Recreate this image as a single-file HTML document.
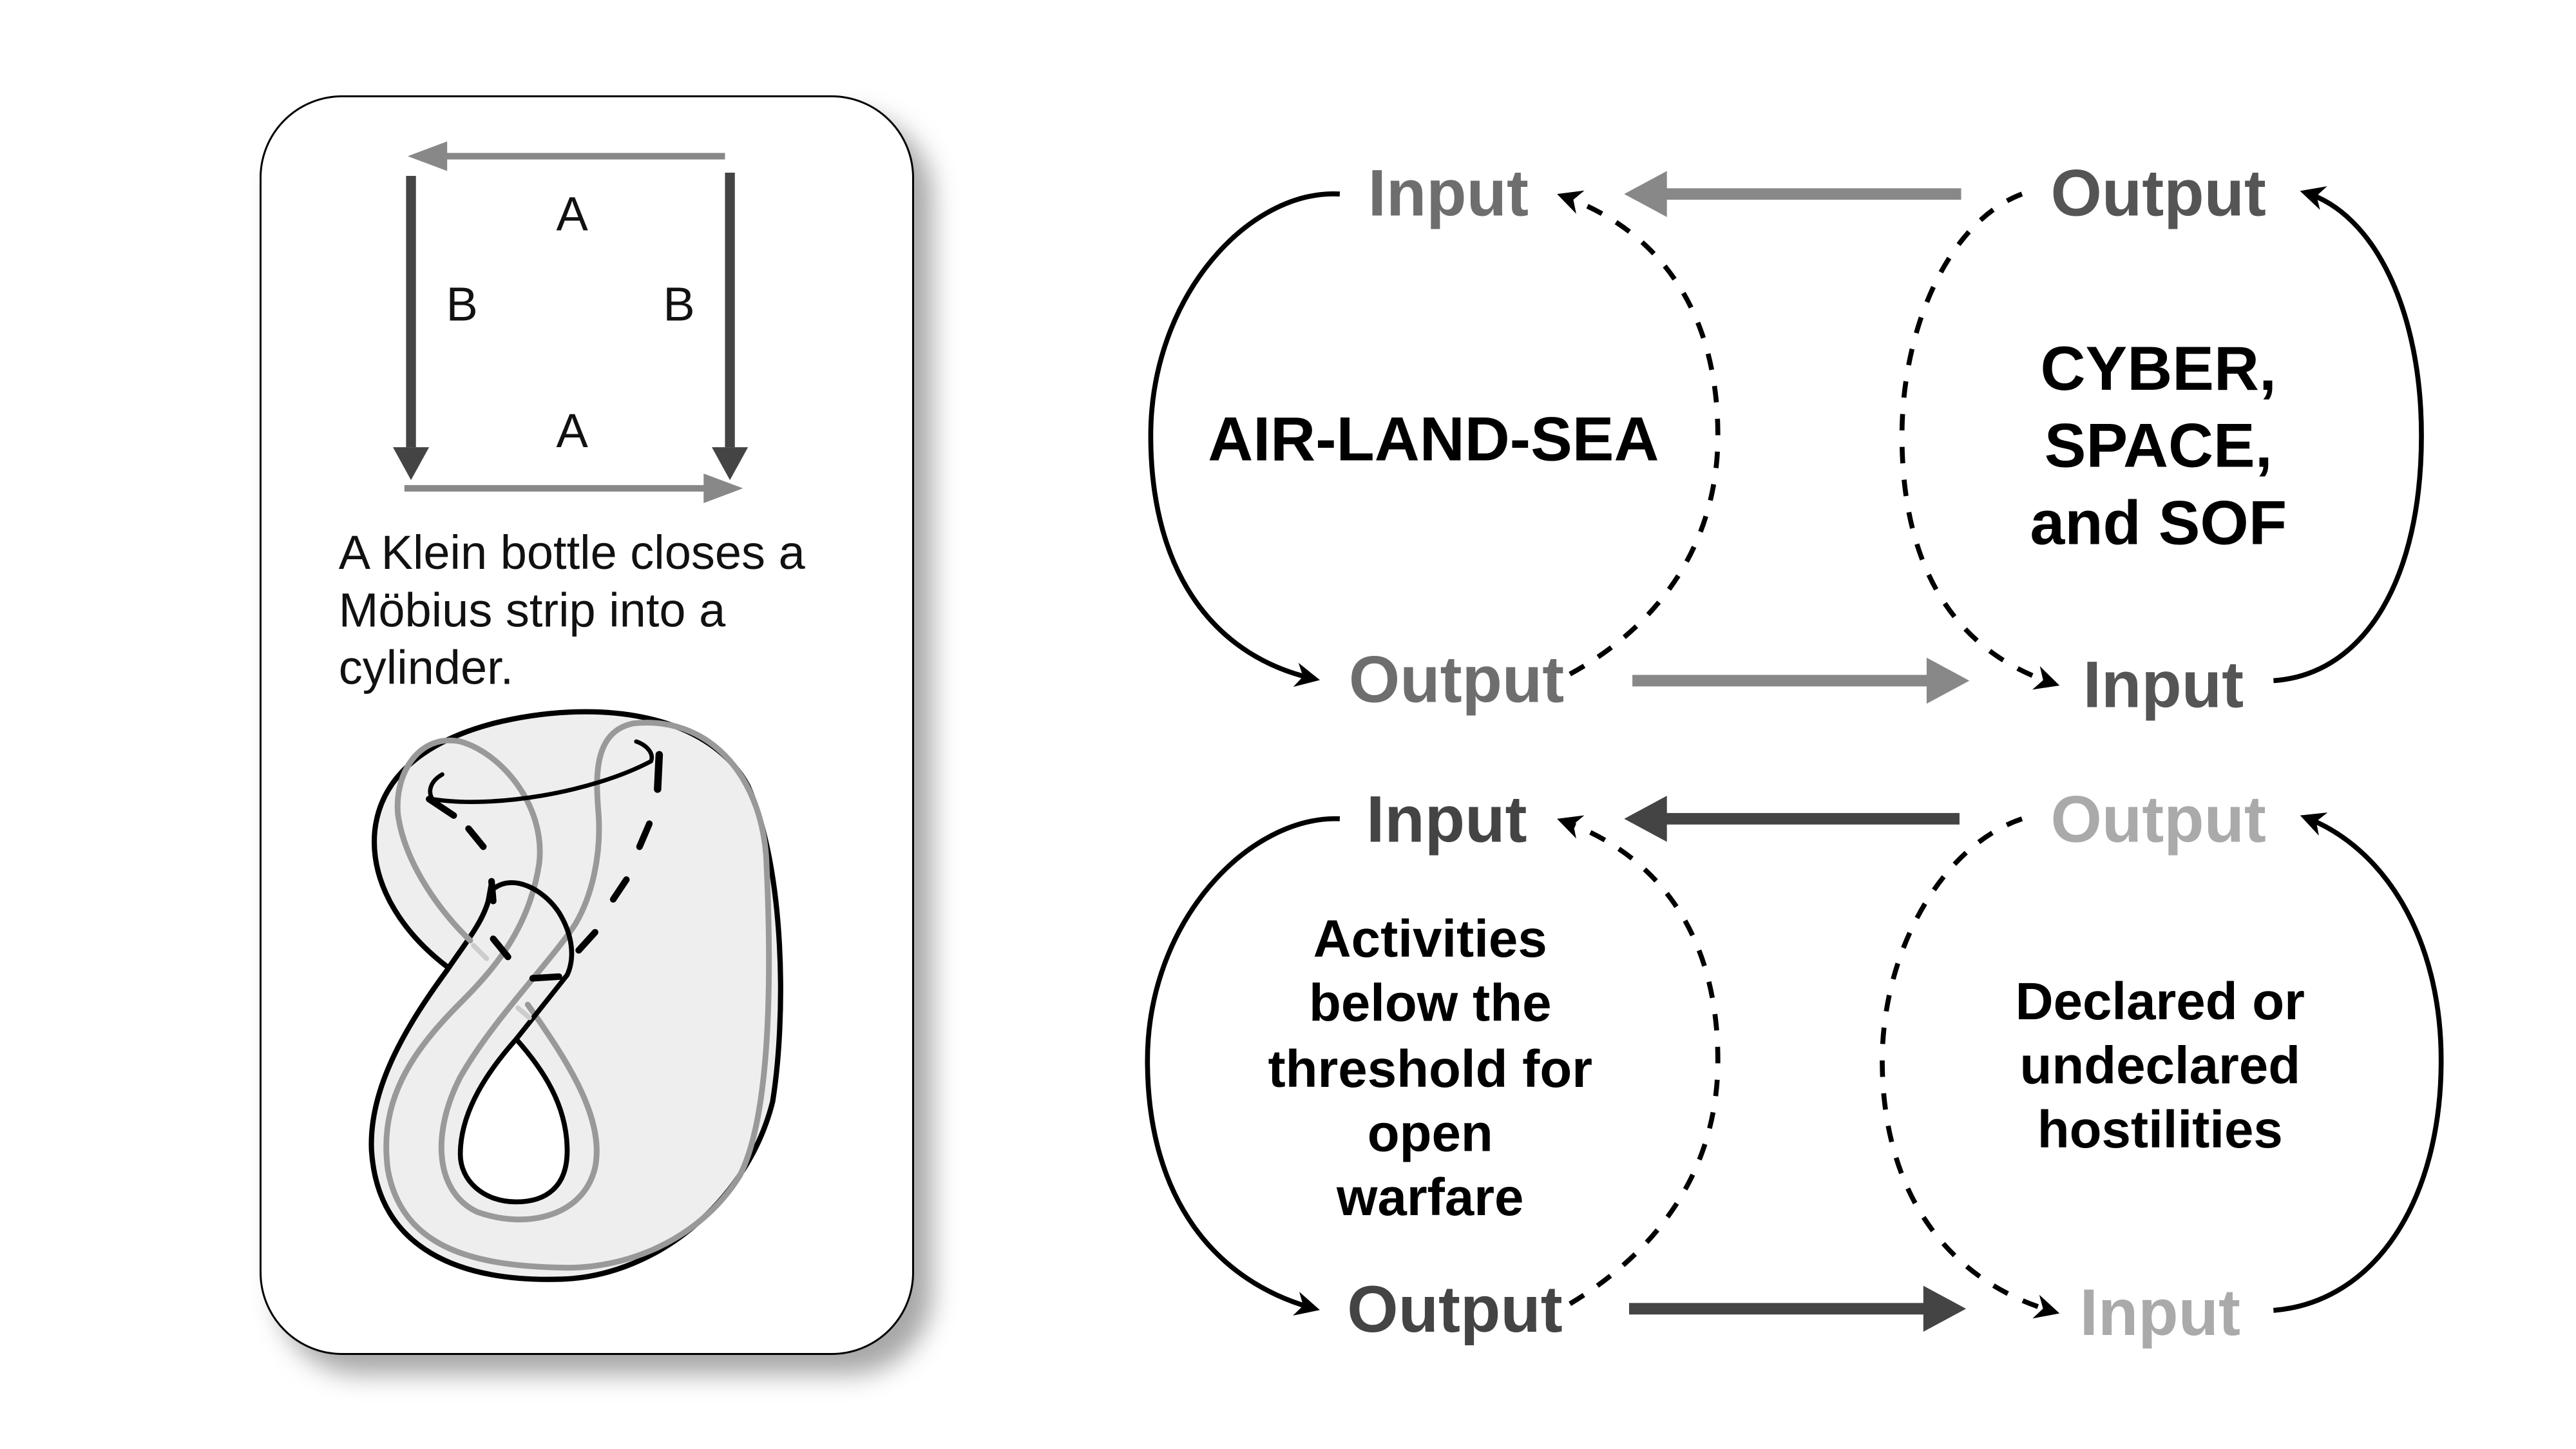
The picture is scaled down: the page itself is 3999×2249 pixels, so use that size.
<!DOCTYPE html>
<html><head><meta charset="utf-8"><style>
html,body{margin:0;padding:0;background:#fff;width:3999px;height:2249px;overflow:hidden}
.card{position:absolute;left:403px;top:148px;width:1010px;height:1949px;border:3px solid #000;border-radius:128px;background:#fff;box-shadow:28px 30px 40px rgba(0,0,0,0.35)}
svg{position:absolute;left:0;top:0}
</style></head><body>
<div class="card"></div>
<svg width="3999" height="2249" viewBox="0 0 1567 881.3" xmlns="http://www.w3.org/2000/svg">
<defs>
<marker id="m" viewBox="0 0 10 10" refX="8" refY="5" markerWidth="5" markerHeight="5" orient="auto"><path d="M0,0 L10,5 L0,10 L3,5 Z" fill="#000"/></marker>
</defs>
<g>
<line x1="441" y1="95" x2="262" y2="95" stroke="#888" stroke-width="4"/>
<polygon points="248,95 272,86 272,104" fill="#888"/>
<line x1="250" y1="107" x2="250" y2="272" stroke="#444" stroke-width="6"/>
<polygon points="250,292 239,272 261,272" fill="#444"/>
<line x1="444" y1="105" x2="444" y2="272" stroke="#444" stroke-width="6"/>
<polygon points="444,292 433,272 455,272" fill="#444"/>
<line x1="246" y1="297" x2="432" y2="297" stroke="#888" stroke-width="4"/>
<polygon points="452,297 428,288 428,306" fill="#888"/>
</g>
<g font-family="Liberation Sans, sans-serif" font-size="29" fill="#111" text-anchor="middle">
<text x="348" y="140">A</text>
<text x="281" y="195">B</text>
<text x="413" y="195">B</text>
<text x="348" y="272">A</text>
</g>
<g font-family="Liberation Sans, sans-serif" font-size="29" fill="#111">
<text x="206" y="346">A Klein bottle closes a</text>
<text x="206" y="381">Möbius strip into a</text>
<text x="206" y="416">cylinder.</text>
</g>
<!-- Klein bottle -->
<g fill="none" stroke-linecap="round" stroke-linejoin="round">
<path d="M272,588 C242,565 225,535 228,505 C232,470 262,450 300,440 C360,425 430,432 455,478 C478,530 478,620 470,670 C455,730 400,776 342,778 C280,780 230,760 226,700 C224,660 250,620 272,590 L298,548 Z" fill="#eee" stroke="none"/>
<path d="M272,588 C242,565 225,535 228,505 C232,470 262,450 300,440 C360,425 430,432 455,478 C478,530 478,620 470,670 C455,730 400,776 342,778 C280,780 230,760 226,700 C224,660 250,620 272,590 C282,575 293,562 297,548 L299,537" stroke="#000" stroke-width="3.2"/>
<path d="M314,632 C330,650 345,672 345,700 C345,722 332,731 314,731 C294,731 280,718 280,702 C280,675 298,650 314,632 Z" fill="#fff" stroke="#000" stroke-width="3"/>
<path d="M364,494 C362,470 362,445 385,440 C430,435 462,470 466,520 C470,600 468,680 450,715 C425,755 380,772 342,771 C290,770 245,760 236,712 C230,670 250,640 280,610 C300,590 322,565 328,525 C332,490 305,458 280,451 C255,446 240,470 242,495 C246,525 268,555 286,572" stroke="#999" stroke-width="3.5"/>
<path d="M364,494 C366,520 360,545 350,562 C335,585 300,620 280,655 C262,690 265,725 290,737 C320,748 355,740 362,710 C368,680 345,645 321,611" stroke="#999" stroke-width="3.5"/>
<path d="M301,540 C312,532 330,540 340,555 C348,568 350,582 345,593 L314,632" stroke="#000" stroke-width="3"/>
<path d="M324,595 L340,594" stroke="#000" stroke-width="4"/>
<path d="M269,471 C262,475 260,481 263,486 C300,492 360,482 396,463 C398,458 393,453 387,451" stroke="#000" stroke-width="2.6"/>
<path d="M261,486 L276,496" stroke="#000" stroke-width="4"/>
<path d="M401,459 L400,480" stroke="#000" stroke-width="4.5"/>
<g stroke="#000" stroke-width="4">
<path d="M285,504 L294,515"/>
<path d="M299,536 L300,548"/>
<path d="M300,571 L309,582"/>
<path d="M395,501 L389,515"/>
<path d="M381,535 L373,547"/>
<path d="M362,567 L352,578"/>
</g>
<path d="M288,575 L296,583 M315,613 L322,619" stroke="#ccc" stroke-width="3"/>
</g>
<g fill="none" stroke="#000" stroke-width="3">
<path d="M815,118 C760,115 700,180 700,265 C700,350 740,400 800,413" marker-end="url(#m)"/>
<path d="M955,410 C1010,380 1045,330 1045,265 C1045,190 1010,140 950,119" stroke-dasharray="10,10" marker-end="url(#m)"/>
<path d="M1230,118 C1185,135 1157,200 1157,265 C1157,340 1185,395 1250,416" stroke-dasharray="10,10" marker-end="url(#m)"/>
<path d="M1383,414 C1440,410 1473,350 1473,265 C1473,190 1445,130 1402,117" marker-end="url(#m)"/>
<path d="M815,498 C760,496 698,560 698,645 C698,730 740,780 800,796" marker-end="url(#m)"/>
<path d="M955,793 C1010,760 1045,710 1045,645 C1045,570 1010,520 950,499" stroke-dasharray="10,10" marker-end="url(#m)"/>
<path d="M1230,498 C1180,515 1145,580 1145,645 C1145,720 1180,778 1250,798" stroke-dasharray="10,10" marker-end="url(#m)"/>
<path d="M1383,797 C1445,792 1485,730 1485,645 C1485,570 1450,515 1402,497" marker-end="url(#m)"/>
</g>
<line x1="1193" y1="118" x2="1010" y2="118" stroke="#888" stroke-width="7"/>
<polygon points="988,118 1014,104 1014,132" fill="#888"/>
<line x1="993" y1="414" x2="1176" y2="414" stroke="#888" stroke-width="7"/>
<polygon points="1198,414 1172,400 1172,428" fill="#888"/>
<line x1="1192" y1="498" x2="1010" y2="498" stroke="#444" stroke-width="7"/>
<polygon points="988,498 1014,484 1014,512" fill="#444"/>
<line x1="991" y1="796" x2="1174" y2="796" stroke="#444" stroke-width="7"/>
<polygon points="1196,796 1170,782 1170,810" fill="#444"/>
<g font-family="Liberation Sans, sans-serif" font-weight="bold" font-size="40" text-anchor="middle">
<text x="881" y="131" fill="#6e6e6e">Input</text>
<text x="886" y="427" fill="#6e6e6e">Output</text>
<text x="1313" y="131" fill="#555">Output</text>
<text x="1316" y="430" fill="#555">Input</text>
<text x="880" y="512" fill="#444">Input</text>
<text x="885" y="810" fill="#444">Output</text>
<text x="1313" y="512" fill="#aaa">Output</text>
<text x="1314" y="812" fill="#aaa">Input</text>
</g>
<g font-family="Liberation Sans, sans-serif" font-weight="bold" font-size="38" fill="#000" text-anchor="middle">
<text x="872" y="280">AIR-LAND-SEA</text>
<text x="1313" y="237">CYBER,</text>
<text x="1313" y="284">SPACE,</text>
<text x="1313" y="331">and SOF</text>
</g>
<g font-family="Liberation Sans, sans-serif" font-weight="bold" font-size="32" fill="#000" text-anchor="middle">
<text x="870" y="582">Activities</text>
<text x="870" y="621">below the</text>
<text x="870" y="661">threshold for</text>
<text x="870" y="700">open</text>
<text x="870" y="739">warfare</text>
<text x="1314" y="620">Declared or</text>
<text x="1314" y="659">undeclared</text>
<text x="1314" y="698">hostilities</text>
</g>
</svg>
</body></html>
